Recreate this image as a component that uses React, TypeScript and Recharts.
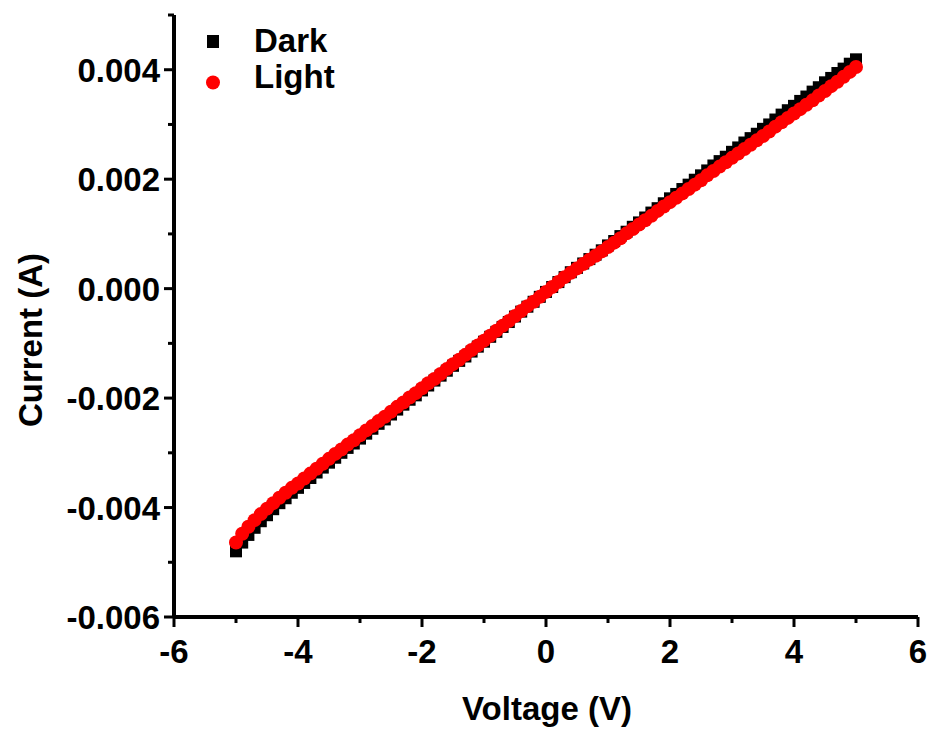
import React from 'react';
import {
  ScatterChart,
  Scatter,
  XAxis,
  YAxis,
  Legend,
} from 'recharts';

// sweep voltage (V)
const voltage = [
  -5.0, -4.9, -4.8, -4.7, -4.6, -4.5, -4.4, -4.3, -4.2, -4.1,
  -4.0, -3.9, -3.8, -3.7, -3.6, -3.5, -3.4, -3.3, -3.2, -3.1,
  -3.0, -2.9, -2.8, -2.7, -2.6, -2.5, -2.4, -2.3, -2.2, -2.1,
  -2.0, -1.9, -1.8, -1.7, -1.6, -1.5, -1.4, -1.3, -1.2, -1.1,
  -1.0, -0.9, -0.8, -0.7, -0.6, -0.5, -0.4, -0.3, -0.2, -0.1,
  0.0, 0.1, 0.2, 0.3, 0.4, 0.5, 0.6, 0.7, 0.8, 0.9,
  1.0, 1.1, 1.2, 1.3, 1.4, 1.5, 1.6, 1.7, 1.8, 1.9,
  2.0, 2.1, 2.2, 2.3, 2.4, 2.5, 2.6, 2.7, 2.8, 2.9,
  3.0, 3.1, 3.2, 3.3, 3.4, 3.5, 3.6, 3.7, 3.8, 3.9,
  4.0, 4.1, 4.2, 4.3, 4.4, 4.5, 4.6, 4.7, 4.8, 4.9,
  5.0,
];

// current in mA
const darkCurrentMA = [
  -4.80, -4.64, -4.50, -4.37, -4.25, -4.14, -4.03, -3.92, -3.83, -3.73,
  -3.64, -3.55, -3.46, -3.36, -3.27, -3.18, -3.09, -3.00, -2.91, -2.83,
  -2.74, -2.65, -2.56, -2.47, -2.39, -2.30, -2.21, -2.12, -2.03, -1.95,
  -1.86, -1.77, -1.68, -1.59, -1.50, -1.41, -1.32, -1.24, -1.15, -1.06,
  -0.97, -0.88, -0.79, -0.70, -0.61, -0.51, -0.42, -0.33, -0.24, -0.15,
  -0.06, 0.03, 0.12, 0.21, 0.30, 0.38, 0.46, 0.54, 0.62, 0.70,
  0.79, 0.87, 0.96, 1.04, 1.13, 1.21, 1.30, 1.39, 1.47, 1.56,
  1.65, 1.73, 1.82, 1.90, 1.99, 2.07, 2.16, 2.25, 2.33, 2.41,
  2.50, 2.58, 2.67, 2.75, 2.83, 2.92, 3.00, 3.09, 3.18, 3.26,
  3.34, 3.43, 3.51, 3.60, 3.68, 3.77, 3.85, 3.94, 4.02, 4.11,
  4.19,
];

const lightCurrentMA = [
  -4.64, -4.48, -4.35, -4.23, -4.12, -4.02, -3.92, -3.82, -3.73, -3.64,
  -3.56, -3.47, -3.38, -3.29, -3.20, -3.11, -3.02, -2.94, -2.85, -2.77,
  -2.68, -2.59, -2.51, -2.42, -2.34, -2.25, -2.16, -2.08, -1.99, -1.91,
  -1.82, -1.73, -1.65, -1.56, -1.47, -1.38, -1.30, -1.21, -1.12, -1.04,
  -0.95, -0.86, -0.77, -0.68, -0.59, -0.50, -0.41, -0.32, -0.24, -0.15,
  -0.06, 0.03, 0.12, 0.21, 0.29, 0.37, 0.45, 0.53, 0.60, 0.68,
  0.76, 0.84, 0.92, 1.01, 1.09, 1.17, 1.25, 1.33, 1.42, 1.50,
  1.58, 1.66, 1.74, 1.82, 1.90, 1.98, 2.07, 2.15, 2.23, 2.31,
  2.39, 2.47, 2.55, 2.63, 2.71, 2.79, 2.87, 2.96, 3.04, 3.12,
  3.20, 3.28, 3.36, 3.44, 3.53, 3.61, 3.70, 3.78, 3.87, 3.96,
  4.05,
];

const xTicks = [-6, -5, -4, -3, -2, -1, 0, 1, 2, 3, 4, 5, 6];
const yTicks = [-0.006, -0.005, -0.004, -0.003, -0.002, -0.001, 0, 0.001, 0.002, 0.003, 0.004, 0.005];

const darkData = voltage.map((v, i) => ({ voltage: v, current: darkCurrentMA[i] / 1000 }));
const lightData = voltage.map((v, i) => ({ voltage: v, current: lightCurrentMA[i] / 1000 }));

const FONT = '"Liberation Sans", Arial, sans-serif';
const INK = '#000';
const AXIS = { stroke: INK, strokeWidth: 4 };

function BottomTick({ x, y, payload }: any) {
  const major = Math.round(payload.value) % 2 === 0;
  return (
    <g>
      <line x1={x} x2={x} y1={y} y2={y + (major ? 10 : 6)} stroke={INK} strokeWidth={3} />
      {major && (
        <text x={x} y={y + 46} textAnchor="middle" fontFamily={FONT} fontWeight="bold" fontSize={33} fill={INK}>
          {payload.value}
        </text>
      )}
    </g>
  );
}

function LeftTick({ x, y, payload }: any) {
  const major = Math.round(payload.value * 1000) % 2 === 0;
  return (
    <g>
      <line x1={x - (major ? 10 : 6)} x2={x} y1={y} y2={y} stroke={INK} strokeWidth={3} />
      {major && (
        <text x={x - 14} y={y + 12} textAnchor="end" fontFamily={FONT} fontWeight="bold" fontSize={33} fill={INK}>
          {payload.value.toFixed(3)}
        </text>
      )}
    </g>
  );
}

function TopTick({ x, y }: any) {
  return <line x1={x} x2={x} y1={y} y2={y - 4} stroke={INK} strokeWidth={2} />;
}

function RightTick({ x, y }: any) {
  return <line x1={x} x2={x + 4} y1={y} y2={y} stroke={INK} strokeWidth={2} />;
}

const squareShape = (props: any) => (
  <rect x={props.cx - 6} y={props.cy - 6} width={12} height={12} fill="#000" />
);
const circleShape = (props: any) => <circle cx={props.cx} cy={props.cy} r={7} fill="#ff0000" />;

function LegendBox() {
  return (
    <svg width={400} height={100} style={{ display: 'block' }}>
      <rect x={199} y={27} width={12} height={13} fill="#000" />
      <text x={246} y={44} fontFamily={FONT} fontWeight="bold" fontSize={33} fill={INK}>
        Dark
      </text>
      <circle cx={205} cy={74.5} r={7} fill="#ff0000" />
      <text x={246} y={80} fontFamily={FONT} fontWeight="bold" fontSize={33} fill={INK}>
        Light
      </text>
    </svg>
  );
}

export default function App() {
  return (
    <ScatterChart width={928} height={723} margin={{ top: 7, right: 18, bottom: 0, left: 0 }}>
      <XAxis
        type="number"
        dataKey="voltage"
        domain={[-6, 6]}
        ticks={xTicks}
        height={114}
        tickSize={0}
        tickMargin={0}
        tickLine={false}
        axisLine={AXIS}
        tick={<BottomTick />}
        interval={0}
        allowDataOverflow
      />
      <XAxis
        xAxisId="top"
        orientation="top"
        type="number"
        domain={[-6, 6]}
        ticks={xTicks}
        height={0}
        tickSize={0}
        tickLine={false}
        axisLine={AXIS}
        tick={<TopTick />}
        interval={0}
        allowDataOverflow
      />
      <YAxis
        type="number"
        dataKey="current"
        domain={[-0.006, 0.005]}
        ticks={yTicks}
        width={166}
        tickSize={0}
        tickMargin={0}
        tickLine={false}
        axisLine={AXIS}
        tick={<LeftTick />}
        interval={0}
        allowDataOverflow
      />
      <YAxis
        yAxisId="right"
        orientation="right"
        type="number"
        domain={[-0.006, 0.005]}
        ticks={yTicks}
        width={0}
        tickSize={0}
        tickLine={false}
        axisLine={AXIS}
        tick={<RightTick />}
        interval={0}
        allowDataOverflow
      />
      <Legend
        layout="horizontal"
        verticalAlign="middle"
        align="center"
        wrapperStyle={{ left: 0, top: 0, width: 400, height: 100 }}
        content={() => <LegendBox />}
      />
      <Scatter name="Dark" data={darkData} shape={squareShape} isAnimationActive={false} />
      <Scatter name="Light" data={lightData} shape={circleShape} isAnimationActive={false} />
      <text x={539} y={712} textAnchor="middle" fontFamily={FONT} fontWeight="bold" fontSize={33} fill={INK}>
        Voltage (V)
      </text>
      <text
        x={34}
        y={332}
        transform="rotate(-90, 34, 332)"
        textAnchor="middle"
        fontFamily={FONT}
        fontWeight="bold"
        fontSize={33}
        fill={INK}
      >
        Current (A)
      </text>
    </ScatterChart>
  );
}
